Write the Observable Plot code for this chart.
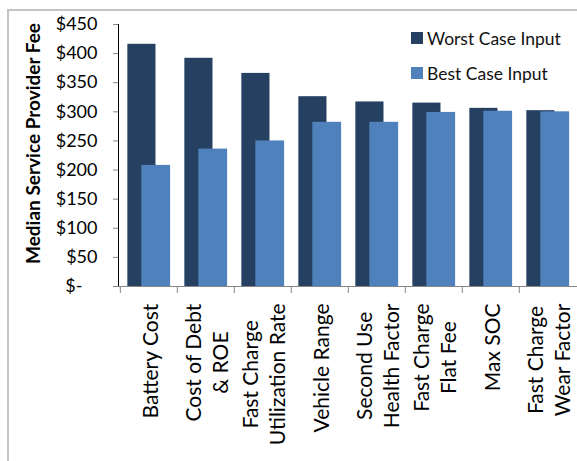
<!DOCTYPE html>
<html>
<head>
<meta charset="utf-8">
<script src="https://cdn.jsdelivr.net/npm/d3@7"></script>
<script src="https://cdn.jsdelivr.net/npm/@observablehq/plot@0.6"></script>
<style>
  html, body { margin: 0; padding: 0; background: #fff; }
  #wrap { position: relative; width: 577px; height: 461px; overflow: hidden; font-family: Lato, "Open Sans", sans-serif; }
  #wrap svg { position: absolute; left: 0; top: 0; }
  #border { position: absolute; left: 7px; top: 9px; right: -5px; bottom: -5px;
            border-left: 2px solid #c4c4c4; border-top: 2px solid #c4c4c4; pointer-events: none; }
  #legend { position: absolute; left: 411px; top: 28px; font-size: 17.5px; color: #111; }
  #legend .row { display: flex; align-items: center; height: 20px; margin-bottom: 15px; }
  #legend .sw { width: 12px; height: 12px; margin-right: 4px; }
  g[aria-label^="y-axis"] line, g[aria-label^="y-axis"] path { stroke: #868686; }
</style>
</head>
<body>
<div id="wrap"></div>
<script>
// ---- data ----
const categories = [
  "Battery Cost",
  "Cost of Debt\n& ROE",
  "Fast Charge\nUtilization Rate",
  "Vehicle Range",
  "Second Use\nHealth Factor",
  "Fast Charge\nFlat Fee",
  "Max SOC",
  "Fast Charge\nWear Factor"
];
const worstCase = [416, 392, 366, 326, 317, 315, 306, 302];
const bestCase  = [208, 236, 250, 282, 282, 299, 301, 300];
const seriesNames = ["Worst Case Input", "Best Case Input"];
const seriesColors = ["#254061", "#4f81bd"];
const yTicks = [0, 50, 100, 150, 200, 250, 300, 350, 400, 450];
const yLabel = "Median Service Provider Fee";

// ---- layout ----
const W = 577, H = 461;
const mL = 118, mR = 0, mT = 24, mB = 175;
const bw = (W - mL - mR) / categories.length;
const labelSize = 21;
const labelFont = `${labelSize}px Lato`;
const axisGray = "#868686";

const worstRows = categories.map((c, i) => ({cat: c, v: worstCase[i]}));
const bestRows = categories.map((c, i) => ({cat: c, v: bestCase[i]}));

const ctx = document.createElement("canvas").getContext("2d");
ctx.font = labelFont;
const maxLine = c => Math.max(...c.split("\n").map(s => ctx.measureText(s).width));

const labelMarks = categories.map(c =>
  Plot.text([c], {
    x: d => d, text: d => d, frameAnchor: "bottom", rotate: -90,
    textAnchor: "middle", lineAnchor: "middle", lineHeight: 1.3,
    dy: 17 + maxLine(c) / 2, fontSize: labelSize, fontFamily: "Lato", fill: "#000"
  })
);

const chart = Plot.plot({
  width: W, height: H,
  marginLeft: mL, marginRight: mR, marginTop: mT, marginBottom: mB,
  style: {fontFamily: "Lato", fontSize: "18px", color: "#000", background: "transparent", overflow: "visible"},
  x: {domain: categories, padding: 0, axis: null},
  y: {domain: [0, 450], ticks: yTicks, tickSize: 5, tickPadding: 16, label: null, line: true,
      tickFormat: d => d === 0 ? "$-\u2007\u00a0" : "$" + d},
  marks: [
    Plot.barY(worstRows, {x: "cat", y: "v", fill: seriesColors[0], insetLeft: bw * 0.128, insetRight: bw * 0.375}),
    Plot.barY(bestRows, {x: "cat", y: "v", fill: seriesColors[1], insetLeft: bw * 0.372, insetRight: bw * 0.12}),
    Plot.ruleY([0], {stroke: axisGray, strokeWidth: 1}),
    Plot.ruleX(categories, {x: d => d, dx: -bw / 2, stroke: axisGray, insetTop: H - mT - mB, insetBottom: -7}),
    ...labelMarks,
    Plot.text([yLabel], {text: d => d, frameAnchor: "left", rotate: -90, dx: -85, dy: -12,
      textAnchor: "middle", lineAnchor: "middle",
      fontWeight: "bold", fontSize: 19, fontFamily: "Lato", fill: "#000"})
  ]
});

const wrap = document.getElementById("wrap");
wrap.appendChild(chart);

const border = document.createElement("div");
border.id = "border";
wrap.appendChild(border);

const legend = document.createElement("div");
legend.id = "legend";
seriesNames.forEach((n, i) => {
  const row = document.createElement("div");
  row.className = "row";
  const sw = document.createElement("span");
  sw.className = "sw";
  sw.style.background = seriesColors[i];
  const t = document.createElement("span");
  t.textContent = n;
  row.appendChild(sw); row.appendChild(t);
  legend.appendChild(row);
});
wrap.appendChild(legend);
</script>
</body>
</html>
